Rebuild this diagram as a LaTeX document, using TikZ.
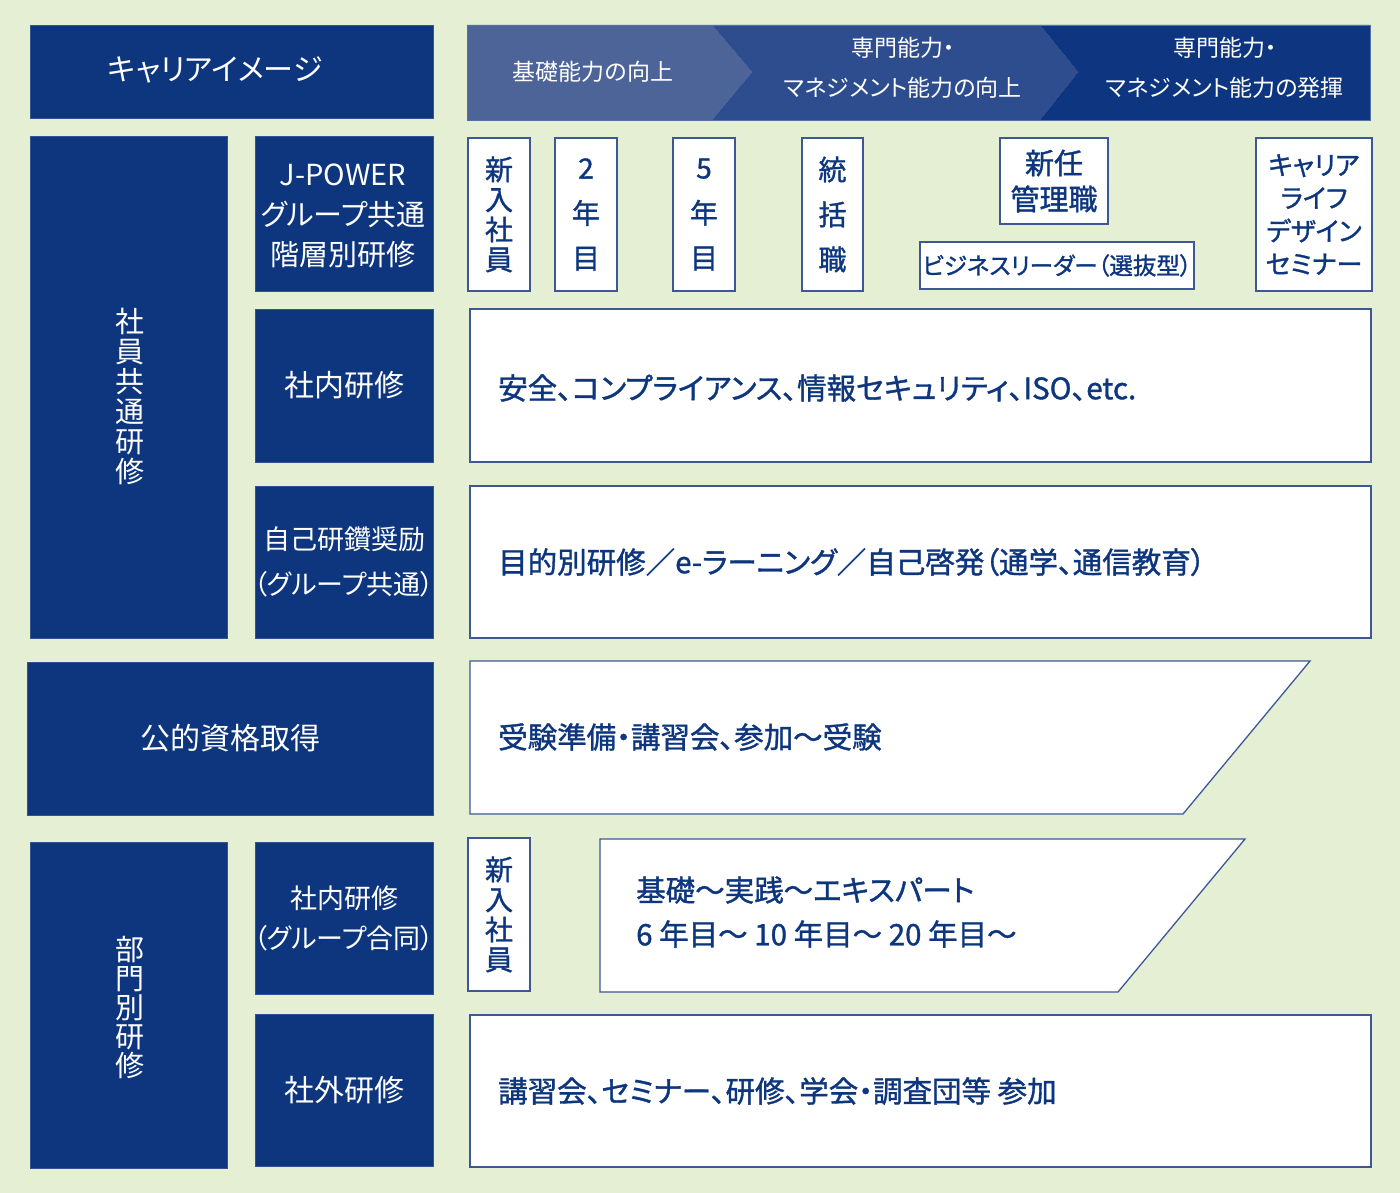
\documentclass[tikz,border=0pt]{standalone}
\usepackage{fontspec}
\setmainfont{Noto Sans CJK JP}[RawFeature=+palt]
\newfontfamily\jpmed{Noto Sans CJK JP}[RawFeature=+palt,FakeBold=1.2]
\definecolor{bg}{RGB}{228,239,211}
\definecolor{navy}{RGB}{13,54,126}
\definecolor{stepA}{RGB}{76,100,152}
\definecolor{stepB}{RGB}{46,77,143}
\definecolor{stepC}{RGB}{14,54,128}
\definecolor{rule}{RGB}{62,88,150}
\tikzset{
  navybox/.style={fill=navy,draw=navy!85!white,line width=0.8pt},
  whitebox/.style={fill=white,draw=rule,line width=1.3pt},
  navytext/.style={text=white,align=center,font=\fontsize{30}{40}\selectfont},
  boxtext/.style={text=navy,align=center,font=\jpmed\fontsize{28}{30}\selectfont},
  wide/.style={text=navy,align=left,anchor=west,inner sep=0pt,font=\jpmed\fontsize{29.5}{44}\selectfont},
  headtext/.style={text=white,align=center,font=\fontsize{23}{40}\selectfont}
}
\begin{document}
\begin{tikzpicture}[x=1pt,y=-1pt]
\useasboundingbox[fill=bg] (0,0) rectangle (1400,1193);
% header
\draw[navybox] (30,25) rectangle (433,118);
\node[navytext] (image) at (215,70) {キャリアイメージ};
\fill[stepA] (467,25) -- (712,25) -- (752,72) -- (712,120) -- (467,120) -- cycle;
\fill[stepB] (712,25) -- (1040,25) -- (1078,72) -- (1040,120) -- (712,120) -- (752,72) -- cycle;
\fill[stepC] (1040,25) -- (1370,25) -- (1370,120) -- (1040,120) -- (1078,72) -- cycle;
\draw[navy!70!white,line width=0.8pt] (467,25) rectangle (1370,120);
\node[headtext] (basic) at (593,72) {基礎能力の向上};
\node[headtext] (growth) at (903,68) {専門能力・\\マネジメント能力の向上};
\node[headtext] (exert) at (1225,68) {専門能力・\\マネジメント能力の発揮};

% 社員共通研修
\draw[navybox] (30,136) rectangle (227,638);
\node[navytext,font=\fontsize{29}{30}\selectfont] (common) at (130,396) {社\\員\\共\\通\\研\\修};
\draw[navybox] (255,136) rectangle (433,291);
\node[navytext,font=\fontsize{29}{40}\selectfont] (jpower) at (343,216) {J-POWER\\グループ共通\\階層別研修};
\draw[whitebox] (468,138) rectangle node[boxtext] (new) {新\\入\\社\\員} (530,291);
\draw[whitebox] (555,138) rectangle node[boxtext,font=\jpmed\fontsize{28}{45}\selectfont] (year2) {2\\年\\目} (617,291);
\draw[whitebox] (673,138) rectangle node[boxtext,font=\jpmed\fontsize{28}{45}\selectfont] (year5) {5\\年\\目} (735,291);
\draw[whitebox] (802,138) rectangle node[boxtext,font=\jpmed\fontsize{28}{45}\selectfont] (chief) {統\\括\\職} (863,291);
\draw[whitebox] (1000,138) rectangle node[boxtext,font=\jpmed\fontsize{29}{36}\selectfont] (manager) {新任\\管理職} (1108,224);
\draw[whitebox] (920,242) rectangle node[boxtext,font=\jpmed\fontsize{23.5}{30}\selectfont] (leader) {ビジネスリーダー（選抜型）} (1194,289);
\draw[whitebox] (1256,138) rectangle node[boxtext,font=\jpmed\fontsize{26}{33}\selectfont] (career) {キャリア\\ライフ\\デザイン\\セミナー} (1372,291);

\draw[navybox] (255,309) rectangle node[navytext] (inhouse) {社内研修} (433,462);
\draw[whitebox] (470,309) rectangle (1371,462);
\node[wide] (topics) at (498,388) {安全、コンプライアンス、情報セキュリティ、ISO、etc.};

\draw[navybox] (255,486) rectangle node[navytext,font=\fontsize{27}{45}\selectfont] (self) {自己研鑽奨励\\（グループ共通）} (433,638);
\draw[whitebox] (470,486) rectangle (1371,638);
\node[wide] (study) at (498,562) {目的別研修／e-ラーニング／自己啓発（通学、通信教育）};

% 公的資格取得
\draw[navybox] (27,662) rectangle node[navytext] (license) {公的資格取得} (433,815);
\draw[whitebox] (470,661) -- (1310,661) -- (1183,814) -- (470,814) -- cycle;
\node[wide] (exam) at (498,737) {受験準備・講習会、参加～受験};

% 部門別研修
\draw[navybox] (30,842) rectangle (227,1168);
\node[navytext,font=\fontsize{29}{29}\selectfont] (dept) at (130,1008) {部\\門\\別\\研\\修};
\draw[navybox] (255,842) rectangle node[navytext,font=\fontsize{27}{40}\selectfont] (joint) {社内研修\\（グループ合同）} (433,994);
\draw[whitebox] (468,838) rectangle node[boxtext] (newdept) {新\\入\\社\\員} (530,991);
\draw[whitebox] (600,839) -- (1245,839) -- (1118,992) -- (600,992) -- cycle;
\node[wide] (expert) at (636,912) {基礎～実践～エキスパート\\6 年目～ 10 年目～ 20 年目～};
\draw[navybox] (255,1014) rectangle node[navytext] (outside) {社外研修} (433,1166);
\draw[whitebox] (470,1015) rectangle (1371,1167);
\node[wide] (seminar) at (498,1091) {講習会、セミナー、研修、学会・調査団等 参加};
\end{tikzpicture}
\end{document}
